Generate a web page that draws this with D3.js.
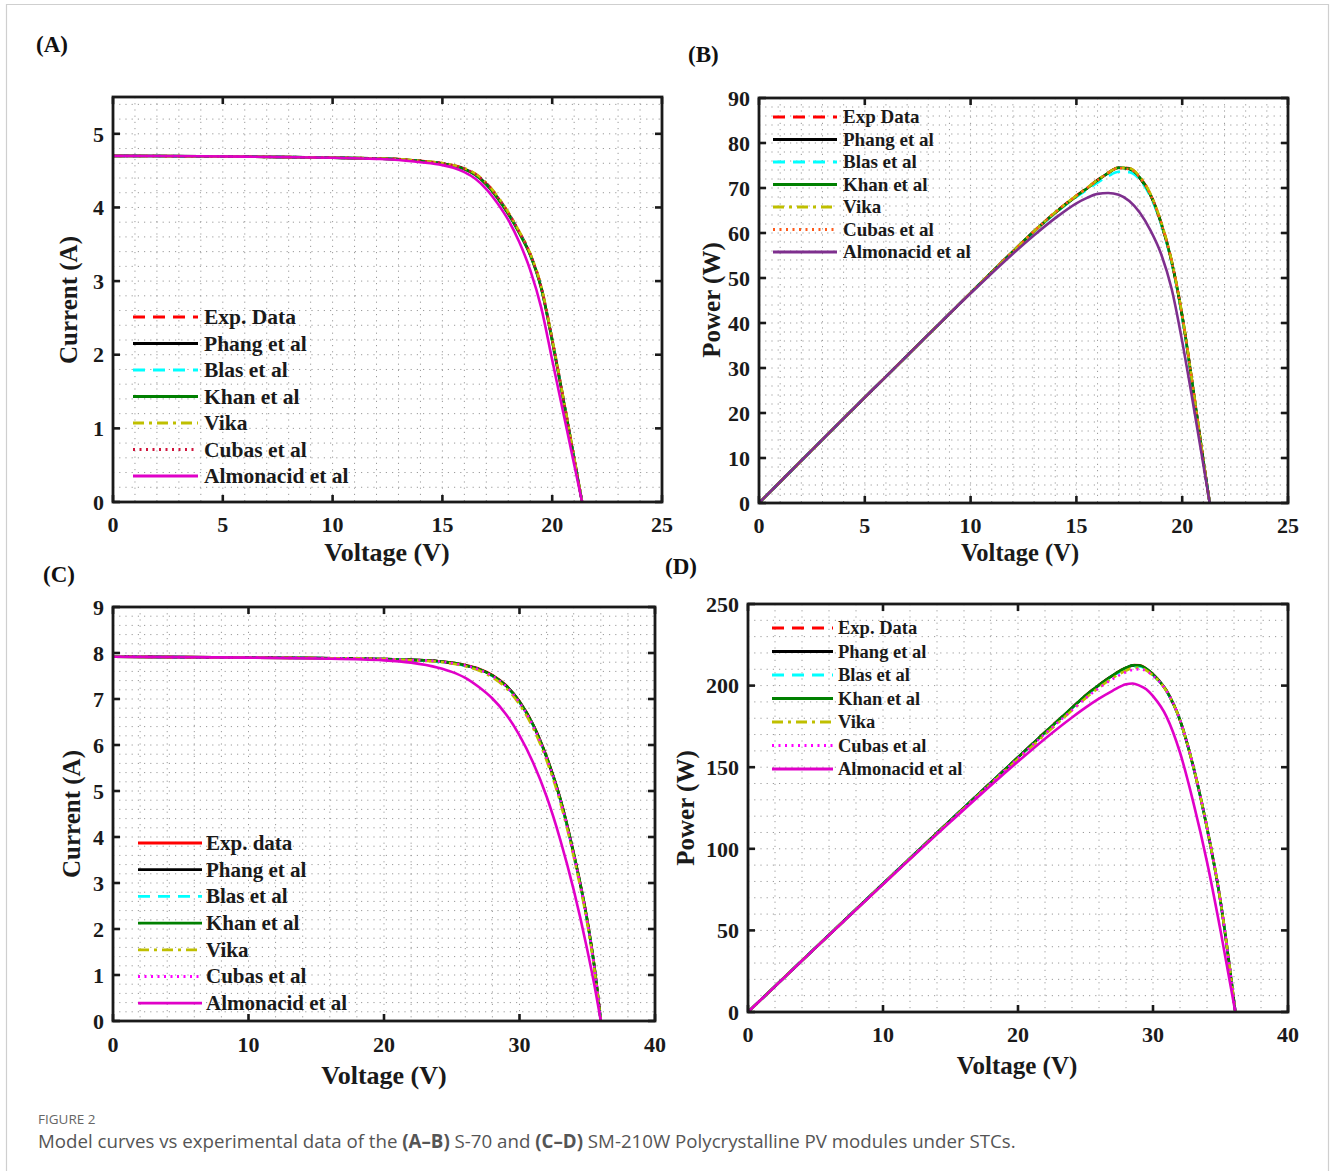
<!DOCTYPE html>
<html>
<head>
<meta charset="utf-8">
<script src="https://cdn.jsdelivr.net/npm/d3@7"></script>
<style>
    body { margin: 0; background: #fff; }
    svg { display: block; }
</style>
</head>
<body>
<script>
// ---- data ----
// (A) S-70 current vs voltage
const voltA = [0, 2, 4, 6, 8, 10, 12, 13, 14, 15, 15.5, 16, 16.5, 17, 17.5, 18, 18.5, 19, 19.5, 20, 20.5, 21, 21.36];
const expA = [4.700, 4.698, 4.695, 4.690, 4.684, 4.676, 4.665, 4.656, 4.632, 4.600, 4.572, 4.530, 4.455, 4.330, 4.150, 3.930, 3.670, 3.370, 2.920, 2.210, 1.420, 0.600, 0];
const phangA = [4.700, 4.698, 4.695, 4.690, 4.684, 4.676, 4.665, 4.655, 4.630, 4.596, 4.566, 4.522, 4.445, 4.318, 4.138, 3.918, 3.660, 3.360, 2.910, 2.200, 1.410, 0.590, 0];
const blasA = [4.700, 4.698, 4.695, 4.690, 4.684, 4.676, 4.664, 4.654, 4.628, 4.594, 4.563, 4.520, 4.442, 4.315, 4.135, 3.915, 3.655, 3.355, 2.905, 2.195, 1.405, 0.590, 0];
const khanA = [4.700, 4.698, 4.695, 4.690, 4.684, 4.676, 4.665, 4.655, 4.630, 4.595, 4.565, 4.520, 4.440, 4.310, 4.130, 3.910, 3.650, 3.350, 2.900, 2.190, 1.400, 0.585, 0];
const vikaA = [4.700, 4.698, 4.695, 4.690, 4.684, 4.676, 4.666, 4.657, 4.633, 4.602, 4.574, 4.533, 4.458, 4.334, 4.155, 3.935, 3.675, 3.375, 2.925, 2.215, 1.425, 0.605, 0];
const cubasA = [4.700, 4.698, 4.695, 4.690, 4.684, 4.676, 4.665, 4.656, 4.631, 4.598, 4.570, 4.527, 4.452, 4.326, 4.146, 3.926, 3.666, 3.366, 2.916, 2.206, 1.416, 0.598, 0];
const almA = [4.700, 4.698, 4.695, 4.690, 4.683, 4.674, 4.660, 4.645, 4.615, 4.575, 4.540, 4.480, 4.390, 4.250, 4.060, 3.830, 3.530, 3.150, 2.640, 1.930, 1.220, 0.510, 0];

// (B) S-70 power vs voltage
const voltB = [0, 2, 4, 6, 8, 10, 12, 13, 14, 15, 15.5, 16, 16.5, 17, 17.5, 18, 18.5, 19, 19.5, 20, 20.5, 21, 21.3];
const expB = [0, 9.4, 18.8, 28.1, 37.4, 46.7, 55.9, 60.4, 64.6, 68.3, 70.0, 71.8, 73.4, 74.6, 74.4, 72.4, 68.6, 62.4, 53.8, 41.7, 26.0, 9.5, 0];
const phangB = [0, 9.4, 18.8, 28.1, 37.4, 46.7, 55.9, 60.4, 64.5, 68.2, 69.9, 71.7, 73.3, 74.5, 74.2, 72.2, 68.4, 62.2, 53.6, 41.5, 25.8, 9.4, 0];
const blasB = [0, 9.4, 18.8, 28.1, 37.4, 46.7, 55.8, 60.3, 64.4, 68.0, 69.6, 71.2, 72.6, 73.6, 73.5, 71.8, 68.1, 62.0, 53.4, 41.3, 25.6, 9.3, 0];
const khanB = [0, 9.4, 18.8, 28.1, 37.4, 46.7, 55.9, 60.4, 64.5, 68.2, 69.9, 71.7, 73.3, 74.5, 74.3, 72.3, 68.5, 62.3, 53.7, 41.6, 25.9, 9.4, 0];
const vikaB = [0, 9.4, 18.8, 28.1, 37.4, 46.7, 55.9, 60.4, 64.6, 68.3, 70.0, 71.8, 73.4, 74.5, 74.4, 72.5, 68.7, 62.5, 53.9, 41.8, 26.1, 9.5, 0];
const cubasB = [0, 9.4, 18.8, 28.1, 37.4, 46.7, 55.9, 60.4, 64.6, 68.3, 70.0, 71.7, 73.3, 74.4, 74.2, 72.3, 68.5, 62.3, 53.7, 41.6, 25.9, 9.4, 0];
const almB = [0, 9.4, 18.8, 28.1, 37.4, 46.6, 55.4, 59.5, 63.3, 66.6, 67.8, 68.7, 68.9, 68.5, 67.1, 64.5, 60.6, 55.4, 47.6, 35.9, 22.5, 8.5, 0];

// (C) SM-210W current vs voltage
const voltC = [0, 5, 10, 15, 20, 22, 24, 25, 26, 27, 28, 29, 30, 31, 32, 33, 34, 35, 35.5, 36];
const expC = [7.92, 7.91, 7.90, 7.89, 7.87, 7.85, 7.82, 7.79, 7.74, 7.66, 7.52, 7.30, 6.95, 6.45, 5.75, 4.85, 3.65, 2.20, 1.25, 0];
const phangC = [7.92, 7.91, 7.90, 7.89, 7.87, 7.85, 7.82, 7.78, 7.73, 7.65, 7.51, 7.29, 6.94, 6.44, 5.73, 4.83, 3.63, 2.18, 1.23, 0];
const blasC = [7.92, 7.91, 7.90, 7.89, 7.87, 7.85, 7.81, 7.78, 7.72, 7.64, 7.50, 7.28, 6.93, 6.43, 5.72, 4.82, 3.62, 2.17, 1.22, 0];
const khanC = [7.92, 7.91, 7.90, 7.89, 7.87, 7.85, 7.82, 7.79, 7.73, 7.65, 7.51, 7.29, 6.94, 6.44, 5.74, 4.84, 3.64, 2.19, 1.24, 0];
const vikaC = [7.92, 7.91, 7.90, 7.89, 7.87, 7.84, 7.81, 7.77, 7.71, 7.62, 7.47, 7.24, 6.88, 6.37, 5.66, 4.76, 3.57, 2.12, 1.18, 0];
const cubasC = [7.92, 7.91, 7.90, 7.89, 7.87, 7.85, 7.82, 7.78, 7.73, 7.64, 7.50, 7.28, 6.92, 6.42, 5.72, 4.82, 3.62, 2.18, 1.23, 0];
const almC = [7.92, 7.91, 7.90, 7.88, 7.84, 7.79, 7.68, 7.59, 7.46, 7.26, 7.01, 6.67, 6.21, 5.62, 4.88, 3.95, 2.85, 1.55, 0.82, 0];

// (D) SM-210W power vs voltage
const voltD = [0, 5, 10, 15, 20, 22, 24, 25, 26, 27, 28, 28.5, 29, 29.5, 30, 31, 32, 33, 34, 35, 36.1];
const expD = [0, 39.4, 78.6, 117.6, 156.2, 171.5, 186.5, 194.0, 200.5, 206.3, 211.0, 212.6, 212.4, 210.5, 207.0, 197.0, 179.0, 150.0, 113.0, 68.0, 0];
const phangD = [0, 39.4, 78.6, 117.5, 156.0, 171.3, 186.3, 193.8, 200.3, 206.1, 210.8, 212.4, 212.2, 210.3, 206.8, 196.8, 178.8, 149.8, 112.8, 67.8, 0];
const blasD = [0, 39.4, 78.6, 117.5, 156.0, 171.2, 186.2, 193.6, 200.0, 205.7, 210.3, 211.8, 211.7, 210.0, 206.5, 196.6, 178.7, 149.8, 112.8, 67.8, 0];
const khanD = [0, 39.4, 78.6, 117.6, 156.1, 171.4, 186.4, 193.9, 200.4, 206.2, 210.9, 212.5, 212.3, 210.4, 206.9, 196.9, 178.9, 149.9, 112.9, 67.9, 0];
const vikaD = [0, 39.3, 78.3, 117.0, 155.0, 170.0, 184.8, 192.3, 198.8, 204.6, 209.2, 210.8, 210.9, 209.4, 206.2, 196.6, 178.8, 149.9, 112.9, 67.9, 0];
const cubasD = [0, 39.3, 78.4, 117.2, 155.5, 170.5, 185.0, 192.2, 198.5, 204.0, 208.2, 209.6, 210.0, 209.0, 206.0, 196.8, 179.0, 150.0, 113.0, 68.0, 0];
const almD = [0, 39.3, 78.2, 116.5, 153.5, 167.5, 180.5, 186.5, 192.0, 196.8, 200.8, 201.3, 200.0, 197.8, 193.5, 181.0, 159.0, 128.0, 92.0, 50.0, 0];

// legend names and tick labels
const namesA = ["Exp. Data", "Phang et al", "Blas et al", "Khan et al", "Vika", "Cubas et al", "Almonacid et al"];
const namesB = ["Exp Data", "Phang et al", "Blas et al", "Khan et al", "Vika", "Cubas et al", "Almonacid et al"];
const namesC = ["Exp. data", "Phang et al", "Blas et al", "Khan et al", "Vika", "Cubas et al", "Almonacid et al"];
const namesD = ["Exp. Data", "Phang et al", "Blas et al", "Khan et al", "Vika", "Cubas et al", "Almonacid et al"];
const ticksX25 = [0, 5, 10, 15, 20, 25];
const ticksX40 = [0, 10, 20, 30, 40];
const ticksYA = [0, 1, 2, 3, 4, 5];
const ticksYB = [0, 10, 20, 30, 40, 50, 60, 70, 80, 90];
const ticksYC = [0, 1, 2, 3, 4, 5, 6, 7, 8, 9];
const ticksYD = [0, 50, 100, 150, 200, 250];

const serif = "'Liberation Serif','Times New Roman',serif";

let svg = d3.select("body")
    .append("svg")
    .attr("width", 1330)
    .attr("height", 1171);

svg.append("rect").attr("width", 1330).attr("height", 1171).attr("fill", "#fff");
// outer figure border
svg.append("path")
    .attr("d", "M6.5,1171 V4.5 H1328.5 V1171")
    .attr("fill", "none")
    .attr("stroke", "#cfcfcf")
    .attr("stroke-width", 1.2);

// style per series (same for every panel except some colours)
function styles(cubasColor, almColor, expDash) {
    return [
        { color: "#ff0000", dash: expDash },
        { color: "#000000", dash: null },
        { color: "#00ffff", dash: "12,8" },
        { color: "#008000", dash: null },
        { color: "#bfbf00", dash: "11,5,3,5" },
        { color: cubasColor, dash: "2,4.5" },
        { color: almColor, dash: null }
    ];
}

function drawPanel(p) {
    let g = svg.append("g");
    let x = d3.scaleLinear().domain(p.xDomain).range([p.left, p.right]);
    let y = d3.scaleLinear().domain(p.yDomain).range([p.bottom, p.top]);

    // dotted grid (minor + major)
    let grid = g.append("g")
        .attr("stroke", "#9a9a9a")
        .attr("stroke-width", 1)
        .attr("stroke-dasharray", "1.2,5");
    d3.range(p.xDomain[0] + p.xMinor, p.xDomain[1] - 1e-6, p.xMinor).forEach((v) => {
        grid.append("line")
            .attr("x1", x(v)).attr("x2", x(v))
            .attr("y1", p.top).attr("y2", p.bottom);
    });
    d3.range(p.yDomain[0] + p.yMinor, p.yDomain[1] - 1e-6, p.yMinor).forEach((v) => {
        grid.append("line")
            .attr("x1", p.left).attr("x2", p.right)
            .attr("y1", y(v)).attr("y2", y(v));
    });

    // curves
    let line = d3.line()
        .x((d) => x(d[0]))
        .y((d) => y(d[1]))
        .curve(d3.curveMonotoneX);
    p.series.forEach((s, i) => {
        let st = p.styles[i];
        g.append("path")
            .attr("d", line(p.volts.map((v, k) => [v, s[k]])))
            .attr("fill", "none")
            .attr("stroke", st.color)
            .attr("stroke-width", 2.6)
            .attr("stroke-dasharray", st.dash);
    });

    // frame
    g.append("rect")
        .attr("x", p.left).attr("y", p.top)
        .attr("width", p.right - p.left)
        .attr("height", p.bottom - p.top)
        .attr("fill", "none")
        .attr("stroke", "#1a1a1a")
        .attr("stroke-width", 2.8);

    // inward ticks on all sides
    let tl = 7;
    p.xTicks.forEach((v) => {
        g.append("line").attr("x1", x(v)).attr("x2", x(v))
            .attr("y1", p.bottom).attr("y2", p.bottom - tl)
            .attr("stroke", "#1a1a1a").attr("stroke-width", 2.6);
        g.append("line").attr("x1", x(v)).attr("x2", x(v))
            .attr("y1", p.top).attr("y2", p.top + tl)
            .attr("stroke", "#1a1a1a").attr("stroke-width", 2.6);
        g.append("text")
            .attr("x", x(v)).attr("y", p.bottom + p.xLabelGap)
            .attr("text-anchor", "middle")
            .attr("font-family", serif).attr("font-weight", "bold")
            .attr("font-size", 22).attr("fill", "#1a1a1a")
            .text(v);
    });
    p.yTicks.forEach((v) => {
        g.append("line").attr("x1", p.left).attr("x2", p.left + tl)
            .attr("y1", y(v)).attr("y2", y(v))
            .attr("stroke", "#1a1a1a").attr("stroke-width", 2.6);
        g.append("line").attr("x1", p.right).attr("x2", p.right - tl)
            .attr("y1", y(v)).attr("y2", y(v))
            .attr("stroke", "#1a1a1a").attr("stroke-width", 2.6);
        g.append("text")
            .attr("x", p.left - 9).attr("y", y(v)).attr("dy", "0.35em")
            .attr("text-anchor", "end")
            .attr("font-family", serif).attr("font-weight", "bold")
            .attr("font-size", 22).attr("fill", "#1a1a1a")
            .text(v);
    });

    // axis titles
    g.append("text")
        .attr("x", p.xTitle[0]).attr("y", p.xTitle[1])
        .attr("text-anchor", "middle")
        .attr("font-family", serif).attr("font-weight", "bold")
        .attr("font-size", p.titleSize).attr("fill", "#1a1a1a")
        .text("Voltage (V)");
    g.append("text")
        .attr("transform", `translate(${p.yTitle[0]},${p.yTitle[1]}) rotate(-90)`)
        .attr("text-anchor", "middle")
        .attr("font-family", serif).attr("font-weight", "bold")
        .attr("font-size", p.yTitleSize).attr("fill", "#1a1a1a")
        .text(p.yName);

    // panel letter
    g.append("text")
        .attr("x", p.letter[0]).attr("y", p.letter[1])
        .attr("font-family", serif).attr("font-weight", "bold")
        .attr("font-size", 23).attr("fill", "#111")
        .text(p.letterText);

    // legend
    let lg = p.legend;
    p.names.forEach((name, i) => {
        let st = p.styles[i];
        let yy = lg.y + i * lg.step;
        g.append("line")
            .attr("x1", lg.x1).attr("x2", lg.x2)
            .attr("y1", yy).attr("y2", yy)
            .attr("stroke", st.color)
            .attr("stroke-width", 2.8)
            .attr("stroke-dasharray", st.dash);
        g.append("text")
            .attr("x", lg.tx).attr("y", yy).attr("dy", "0.33em")
            .attr("font-family", serif).attr("font-weight", "bold")
            .attr("font-size", lg.size).attr("fill", "#1a1a1a")
            .text(name);
    });
}

drawPanel({
    left: 113, right: 662, top: 97, bottom: 502,
    xDomain: [0, 25], yDomain: [0, 5.5], xMinor: 1, yMinor: 0.2,
    xTicks: ticksX25, yTicks: ticksYA, xLabelGap: 30,
    volts: voltA, series: [expA, phangA, blasA, khanA, vikaA, cubasA, almA],
    styles: styles("#d0143c", "#e000c8", "12,8"),
    names: namesA, yName: "Current (A)", titleSize: 26, yTitleSize: 25,
    xTitle: [387, 561], yTitle: [77, 300],
    letter: [36, 52], letterText: "(A)",
    legend: { x1: 133, x2: 198, tx: 204, y: 317, step: 26.5, size: 21.5 }
});

drawPanel({
    left: 759, right: 1288, top: 98, bottom: 503,
    xDomain: [0, 25], yDomain: [0, 90], xMinor: 1, yMinor: 2,
    xTicks: ticksX25, yTicks: ticksYB, xLabelGap: 30,
    volts: voltB, series: [expB, phangB, blasB, khanB, vikaB, cubasB, almB],
    styles: styles("#ff5a1a", "#7e2f8e", "12,8"),
    names: namesB, yName: "Power (W)", titleSize: 24.5, yTitleSize: 25,
    xTitle: [1020, 561], yTitle: [720, 300],
    letter: [688, 62], letterText: "(B)",
    legend: { x1: 773, x2: 837, tx: 843, y: 117, step: 22.5, size: 19 }
});

drawPanel({
    left: 113, right: 655, top: 607, bottom: 1021,
    xDomain: [0, 40], yDomain: [0, 9], xMinor: 2, yMinor: 0.2,
    xTicks: ticksX40, yTicks: ticksYC, xLabelGap: 31,
    volts: voltC, series: [expC, phangC, blasC, khanC, vikaC, cubasC, almC],
    styles: styles("#ff00ff", "#e000c8", null),
    names: namesC, yName: "Current (A)", titleSize: 26, yTitleSize: 25,
    xTitle: [384, 1084], yTitle: [80, 814],
    letter: [43, 582], letterText: "(C)",
    legend: { x1: 138, x2: 202, tx: 206, y: 843, step: 26.7, size: 21 }
});

drawPanel({
    left: 748, right: 1288, top: 604, bottom: 1012,
    xDomain: [0, 40], yDomain: [0, 250], xMinor: 2, yMinor: 10,
    xTicks: ticksX40, yTicks: ticksYD, xLabelGap: 30,
    volts: voltD, series: [expD, phangD, blasD, khanD, vikaD, cubasD, almD],
    styles: styles("#ff00ff", "#e000c8", "12,8"),
    names: namesD, yName: "Power (W)", titleSize: 25, yTitleSize: 25,
    xTitle: [1017, 1074], yTitle: [694, 808],
    letter: [665, 574], letterText: "(D)",
    legend: { x1: 772, x2: 833, tx: 838, y: 628, step: 23.5, size: 18.5 }
});

// caption
svg.append("text")
    .attr("x", 38).attr("y", 1124)
    .attr("font-family", "'Open Sans','Noto Sans',sans-serif")
    .attr("font-size", 13.5).attr("fill", "#666")
    .text("FIGURE 2");
let cap = svg.append("text")
    .attr("x", 38).attr("y", 1148)
    .attr("font-family", "'Open Sans','Noto Sans',sans-serif")
    .attr("font-size", 18.7).attr("fill", "#555");
cap.append("tspan").text("Model curves vs experimental data of the ");
cap.append("tspan").attr("font-weight", "bold").text("(A–B)");
cap.append("tspan").text(" S-70 and ");
cap.append("tspan").attr("font-weight", "bold").text("(C–D)");
cap.append("tspan").text(" SM-210W Polycrystalline PV modules under STCs.");
</script>
</body>
</html>
